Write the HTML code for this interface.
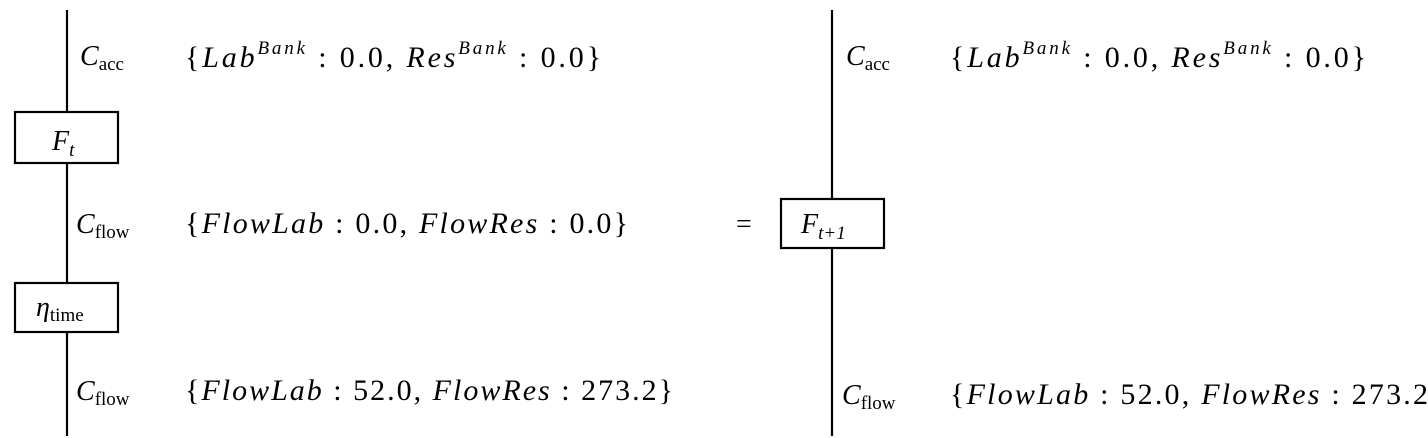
<!DOCTYPE html>
<html><head><style>body{margin:0;background:#fff}svg{display:block}
text{font-family:"Liberation Serif",serif;font-size:28px;fill:#000}
.b{font-size:30px}
.i{font-style:italic}.s{font-size:19px}</style></head><body>
<svg width="1428" height="438" viewBox="0 0 1428 438">
<g stroke="#000" stroke-width="2.2" fill="#fff">
<line x1="67" y1="10" x2="67" y2="436"/>
<rect x="15" y="112" width="103" height="51"/>
<rect x="15" y="283" width="103" height="49"/>
<line x1="832" y1="10" x2="832" y2="436"/>
<rect x="781" y="199" width="103" height="49"/>
</g>
<text x="52" y="150" class="i">F<tspan class="s" dy="6">t</tspan></text>
<text x="36" y="316" class="i">η<tspan class="s" dy="5" font-style="normal">time</tspan></text>
<text x="801" y="233" class="i">F<tspan class="s" dy="6">t+1</tspan></text>
<text x="736" y="233">=</text>

<text x="80" y="65" class="i">C<tspan class="s" dy="5" font-style="normal">acc</tspan></text>
<text x="185" y="67" class="b" textLength="416" lengthAdjust="spacing">{<tspan class="i">Lab</tspan><tspan class="s i" dy="-13">Bank</tspan><tspan dy="13"> : 0.0, </tspan><tspan class="i">Res</tspan><tspan class="s i" dy="-13">Bank</tspan><tspan dy="13"> : 0.0}</tspan></text>

<text x="76" y="233" class="i">C<tspan class="s" dy="5" font-style="normal">flow</tspan></text>
<text x="185" y="233" class="b" textLength="443" lengthAdjust="spacing">{<tspan class="i">FlowLab</tspan> : 0.0, <tspan class="i">FlowRes</tspan> : 0.0}</text>

<text x="76" y="400" class="i">C<tspan class="s" dy="5" font-style="normal">flow</tspan></text>
<text x="185" y="400" class="b" textLength="488" lengthAdjust="spacing">{<tspan class="i">FlowLab</tspan> : 52.0, <tspan class="i">FlowRes</tspan> : 273.2}</text>

<text x="846" y="65" class="i">C<tspan class="s" dy="5" font-style="normal">acc</tspan></text>
<text x="950" y="67" class="b" textLength="416" lengthAdjust="spacing">{<tspan class="i">Lab</tspan><tspan class="s i" dy="-13">Bank</tspan><tspan dy="13"> : 0.0, </tspan><tspan class="i">Res</tspan><tspan class="s i" dy="-13">Bank</tspan><tspan dy="13"> : 0.0}</tspan></text>

<text x="842" y="404" class="i">C<tspan class="s" dy="5" font-style="normal">flow</tspan></text>
<text x="950" y="404" class="b" textLength="478" lengthAdjust="spacing">{<tspan class="i">FlowLab</tspan> : 52.0, <tspan class="i">FlowRes</tspan> : 273.2</text>
</svg></body></html>
